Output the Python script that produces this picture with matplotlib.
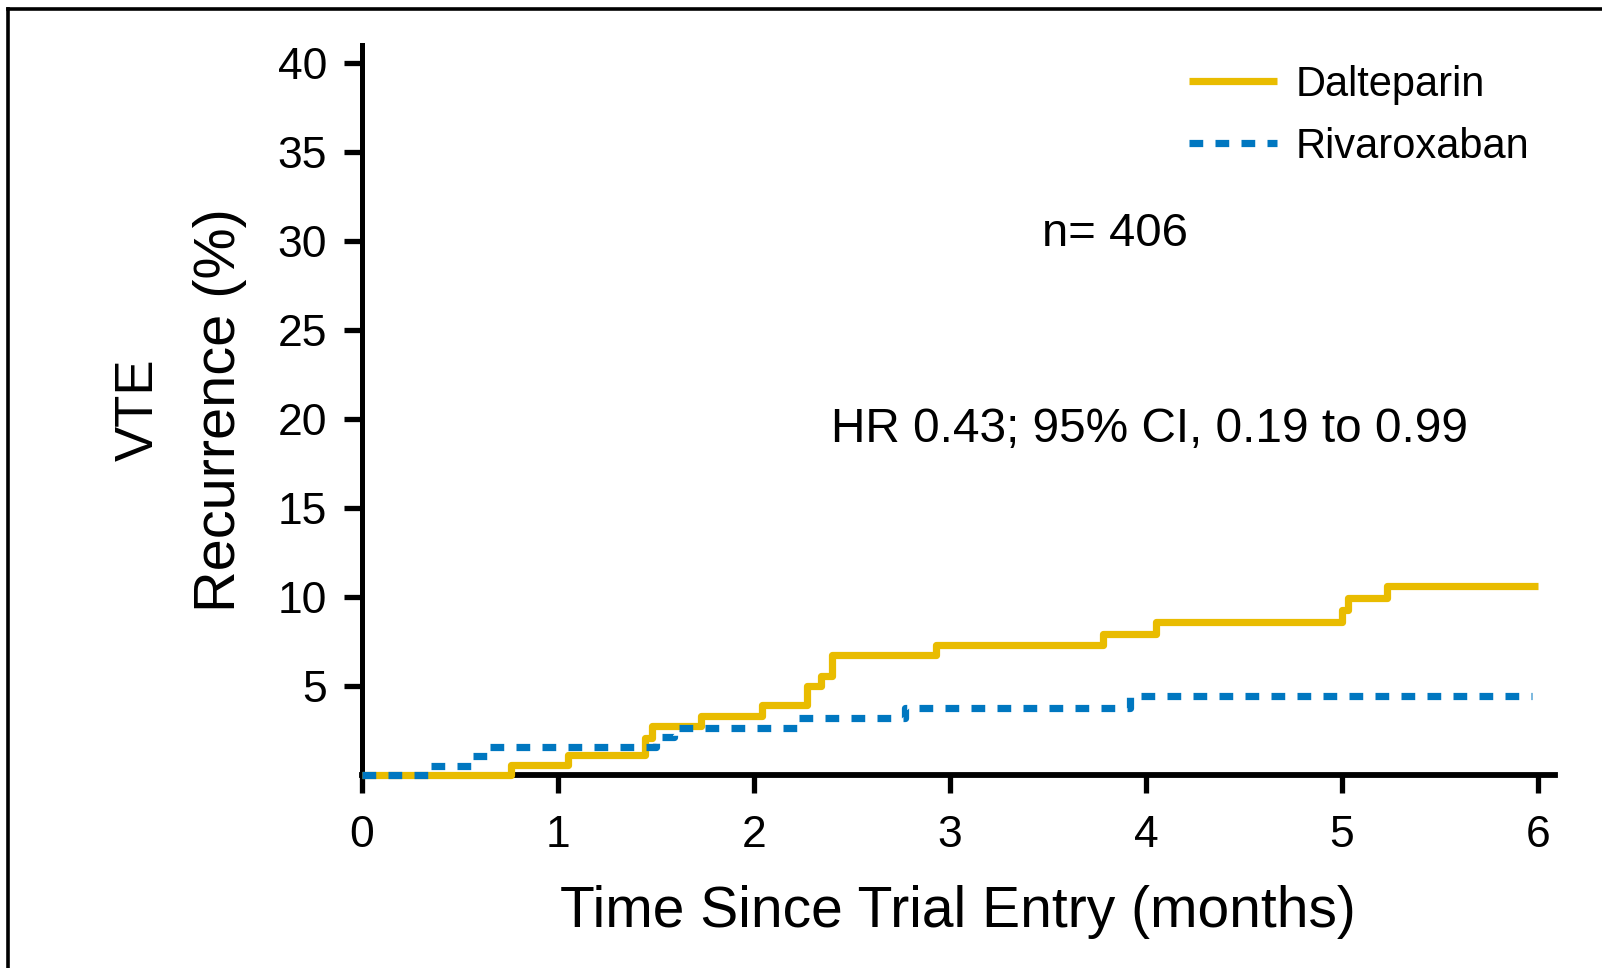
import matplotlib
matplotlib.use("Agg")
import matplotlib.pyplot as plt
from matplotlib import font_manager
from matplotlib.lines import Line2D

# ---- data ----
dalteparin_t = [0.0, 0.76, 1.05, 1.445, 1.48, 1.73, 2.04, 2.27, 2.34, 2.40, 2.93, 3.78, 4.05, 5.00, 5.03, 5.23, 6.00]
dalteparin_y = [0.0, 0.55, 1.12, 2.06, 2.70, 3.28, 3.88, 5.00, 5.52, 6.69, 7.27, 7.90, 8.56, 9.23, 9.93, 10.6, 10.6]
rivaroxaban_t = [0.0, 0.34, 0.56, 0.64, 1.50, 1.59, 2.22, 2.77, 3.92, 5.97]
rivaroxaban_y = [0.0, 0.50, 1.03, 1.53, 2.10, 2.62, 3.18, 3.75, 4.40, 4.40]
xticks = [0, 1, 2, 3, 4, 5, 6]
yticks = [5, 10, 15, 20, 25, 30, 35, 40]
series_names = ["Dalteparin", "Rivaroxaban"]
n_text = "n= 406"
hr_text = "HR 0.43; 95% CI, 0.19 to 0.99"

YELLOW = "#E9BC00"
BLUE = "#0077C0"

names = {f.name for f in font_manager.fontManager.ttflist}
SANS = "Liberation Sans" if "Liberation Sans" in names else "DejaVu Sans"

W, H = 1602, 968
fig = plt.figure(figsize=(W / 100, H / 100), dpi=100)
fig.patch.set_facecolor("white")

# figure frame (top and left edges visible in reference)
fig.add_artist(Line2D([7.5 / W, 7.5 / W], [0, 1 - 9 / H], color="black", lw=2.6, transform=fig.transFigure))
fig.add_artist(Line2D([7.5 / W, 1], [1 - 9 / H, 1 - 9 / H], color="black", lw=2.6, transform=fig.transFigure))

left, right = 362 / W, 1555 / W
bottom, top = 1 - 774.5 / H, 1 - 45 / H
ax = fig.add_axes([left, bottom, right - left, top - bottom])
ax.set_xlim(0, 6.087)
ax.set_ylim(0, 41)

for s in ["top", "right"]:
    ax.spines[s].set_visible(False)
ax.spines["left"].set_linewidth(3.6)
ax.spines["bottom"].set_linewidth(4.2)
ax.spines["left"].set_zorder(2)
ax.spines["bottom"].set_zorder(2)

ax.set_xticks(xticks)
ax.set_yticks(yticks)
ax.tick_params(axis="both", direction="out", length=13, width=3.8, color="black")
ax.tick_params(axis="y", pad=12)
ax.tick_params(axis="x", pad=16)
for lab in ax.get_xticklabels() + ax.get_yticklabels():
    lab.set_fontfamily(SANS)
    lab.set_fontsize(32)

ax.step(dalteparin_t, dalteparin_y, where="post", color=YELLOW, lw=5.2,
        solid_capstyle="butt", clip_on=False, zorder=3, label=series_names[0])
ax.step(rivaroxaban_t, rivaroxaban_y, where="post", color=BLUE, lw=5.2,
        dashes=(1.9, 1.7), dash_capstyle="butt", clip_on=False, zorder=4, label=series_names[1])

leg = ax.legend(loc="upper left", bbox_to_anchor=(1189 / W, 1 - 65 / H), bbox_transform=fig.transFigure,
                frameon=False, prop={"family": SANS, "size": 30},
                handlelength=2.1, handletextpad=0.45, labelspacing=0.52, borderpad=0, borderaxespad=0)

ax.text(3.84, 30.4, n_text, ha="center", va="center", fontsize=34, family=SANS)
ax.text(4.02, 19.4, hr_text, ha="center", va="center", fontsize=34.4, family=SANS)

# y label (two lines)
fig.text(139 / W, 1 - 410 / H, "VTE", rotation=90, ha="center", va="center", fontsize=38, family=SANS)
fig.text(220 / W, 1 - 410 / H, "Recurrence (%)", rotation=90, ha="center", va="center", fontsize=41.5, family=SANS)

# x label
fig.text(958 / W, 1 - 912 / H, "Time Since Trial Entry (months)", ha="center", va="center",
         fontsize=41, family=SANS)

fig.savefig("out.png", dpi=100)
